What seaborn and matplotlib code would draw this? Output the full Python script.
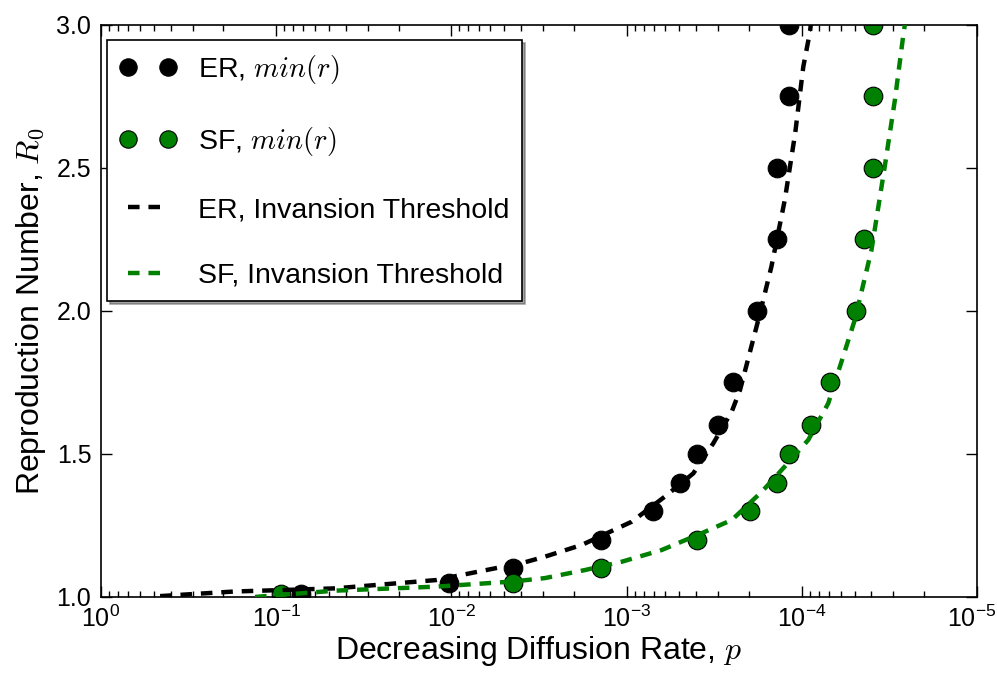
import matplotlib
matplotlib.use("Agg")
import matplotlib.pyplot as plt
import matplotlib.transforms as mtransforms
import seaborn as sns
import pandas as pd
from matplotlib.lines import Line2D
from matplotlib.ticker import LogLocator, FixedLocator, FuncFormatter

# ---- data ----
er_p = [0.0722, 0.0103, 0.00445, 0.0014, 0.000702, 0.000496, 0.000398,
        0.000301, 0.000246, 0.000179, 0.000139, 0.000139, 0.000118, 0.000118]
er_r = [1.01, 1.05, 1.1, 1.2, 1.3, 1.4, 1.5, 1.6, 1.75, 2.0, 2.25, 2.5, 2.75, 3.0]

sf_p = [0.094, 0.00445, 0.0014, 0.000396, 0.000198, 0.000139, 0.000118,
        8.8e-5, 6.9e-5, 4.9e-5, 4.42e-5, 3.92e-5, 3.92e-5, 3.92e-5]
sf_r = [1.01, 1.05, 1.1, 1.2, 1.3, 1.4, 1.5, 1.6, 1.75, 2.0, 2.25, 2.5, 2.75, 3.0]

er_line_p = [0.460, 0.174, 0.0461, 0.01225, 0.00387, 0.00292, 0.00180, 0.000935,
             0.000604, 0.000416, 0.000320, 0.000251, 0.000225, 0.000177,
             0.000149, 0.000125, 0.000109, 9.8e-5, 8.97e-5, 8.7e-5]
er_line_r = [1.003, 1.019, 1.03, 1.059, 1.12, 1.141, 1.182, 1.263, 1.351, 1.432,
             1.537, 1.648, 1.724, 1.969, 2.155, 2.388, 2.622, 2.854, 2.977, 3.05]

sf_line_p = [0.132, 0.0461, 0.01225, 0.00445, 0.00292, 0.00173, 0.001067,
             0.000631, 0.000372, 0.000251, 0.000169, 0.000125, 9.18e-5, 7.06e-5,
             4.98e-5, 4.0e-5, 3.36e-5, 2.94e-5, 2.64e-5, 2.51e-5]
sf_line_r = [1.0, 1.022, 1.036, 1.054, 1.066, 1.094, 1.123, 1.164, 1.223, 1.269,
             1.368, 1.456, 1.549, 1.677, 1.969, 2.213, 2.505, 2.738, 2.959, 3.05]

labels = [r"ER, $min(r)$", r"SF, $min(r)$",
          "ER, Invansion Threshold", "SF, Invansion Threshold"]
y_ticks = [1.0, 1.5, 2.0, 2.5, 3.0]
x_major = [1e0, 1e-1, 1e-2, 1e-3, 1e-4, 1e-5]
x_tick_labels = [r"$\mathdefault{10^{0}}$", r"$\mathdefault{10^{-1}}$",
                 r"$\mathdefault{10^{-2}}$", r"$\mathdefault{10^{-3}}$",
                 r"$\mathdefault{10^{-4}}$", r"$\mathdefault{10^{-5}}$"]

GREEN = "#008000"

sns.set_style("ticks")
plt.rcParams["font.family"] = ["Liberation Sans", "DejaVu Sans"]
plt.rcParams["mathtext.fontset"] = "cm"
plt.rcParams["text.color"] = "black"
plt.rcParams["axes.labelcolor"] = "black"
plt.rcParams["xtick.color"] = "black"
plt.rcParams["ytick.color"] = "black"
plt.rcParams["xtick.direction"] = "in"
plt.rcParams["ytick.direction"] = "in"

fig = plt.figure(figsize=(9.97, 6.73), dpi=100)
ax = fig.add_axes([0.1013, 0.113, 0.8786, 0.85])

er_df = pd.DataFrame({"p": er_p, "r": er_r})
sf_df = pd.DataFrame({"p": sf_p, "r": sf_r})
erl_df = pd.DataFrame({"p": er_line_p, "r": er_line_r})
sfl_df = pd.DataFrame({"p": sf_line_p, "r": sf_line_r})

ms = 180
sns.scatterplot(data=er_df, x="p", y="r", ax=ax, s=ms, color="black",
                edgecolor="black", linewidth=0.8, zorder=2, legend=False)
sns.scatterplot(data=sf_df, x="p", y="r", ax=ax, s=ms, color=GREEN,
                edgecolor="black", linewidth=0.8, zorder=2, legend=False)
dash = (0, (2.6, 2.0))
sns.lineplot(data=erl_df, x="p", y="r", ax=ax, color="black", lw=3.2,
             linestyle=dash, sort=False, estimator=None, zorder=3)
sns.lineplot(data=sfl_df, x="p", y="r", ax=ax, color=GREEN, lw=3.2,
             linestyle=dash, sort=False, estimator=None, zorder=3)

ax.set_xscale("log")
ax.set_xlim(1e0, 1e-5)
ax.set_ylim(1.0, 3.0)
ax.xaxis.set_major_locator(FixedLocator(x_major))
ax.set_xticklabels(x_tick_labels)
ax.xaxis.set_minor_locator(LogLocator(base=10, subs=[2, 3, 4, 5, 6, 7, 8, 9], numticks=20))
ax.xaxis.set_minor_formatter(FuncFormatter(lambda v, pos: ""))
ax.set_yticks(y_ticks)
ax.set_yticklabels([f"{v:.1f}" for v in y_ticks])

ax.tick_params(which="both", top=True, right=True, direction="in")
ax.tick_params(axis="x", labelsize=18, pad=6)
ax.tick_params(axis="y", labelsize=18, pad=7)
ax.tick_params(which="major", length=8, width=1)
ax.tick_params(which="minor", length=4, width=1)
for s in ax.spines.values():
    s.set_linewidth(1.2)
    s.set_color("black")

# keep the last x tick label inside the figure
last = ax.get_xticklabels()[-1]
last.set_transform(last.get_transform() +
                   mtransforms.ScaledTranslation(-5 / 100, 0, fig.dpi_scale_trans))

ax.set_xlabel(r"Decreasing Diffusion Rate, $p$", fontsize=23, labelpad=2)
ax.set_ylabel(r"Reproduction Number, $R_0$", fontsize=23, labelpad=6)

handles = [
    Line2D([], [], ls="none", marker="o", ms=12.5, mfc="black", mec="black", mew=0.8),
    Line2D([], [], ls="none", marker="o", ms=12.5, mfc=GREEN, mec="black", mew=0.8),
    Line2D([], [], color="black", lw=3.2, ls=dash),
    Line2D([], [], color=GREEN, lw=3.2, ls=dash),
]
leg = ax.legend(handles, labels, loc="upper left", numpoints=2, fontsize=20.5,
                labelspacing=1.38, handlelength=2.0, handletextpad=0.75,
                borderpad=0.45, borderaxespad=0,
                bbox_to_anchor=(6 / 876, 1 - 15 / 572),
                fancybox=False, shadow=True, frameon=True, framealpha=1)
leg.get_frame().set_edgecolor("black")
leg.get_frame().set_linewidth(1.2)

fig.savefig("out.png", dpi=100)
